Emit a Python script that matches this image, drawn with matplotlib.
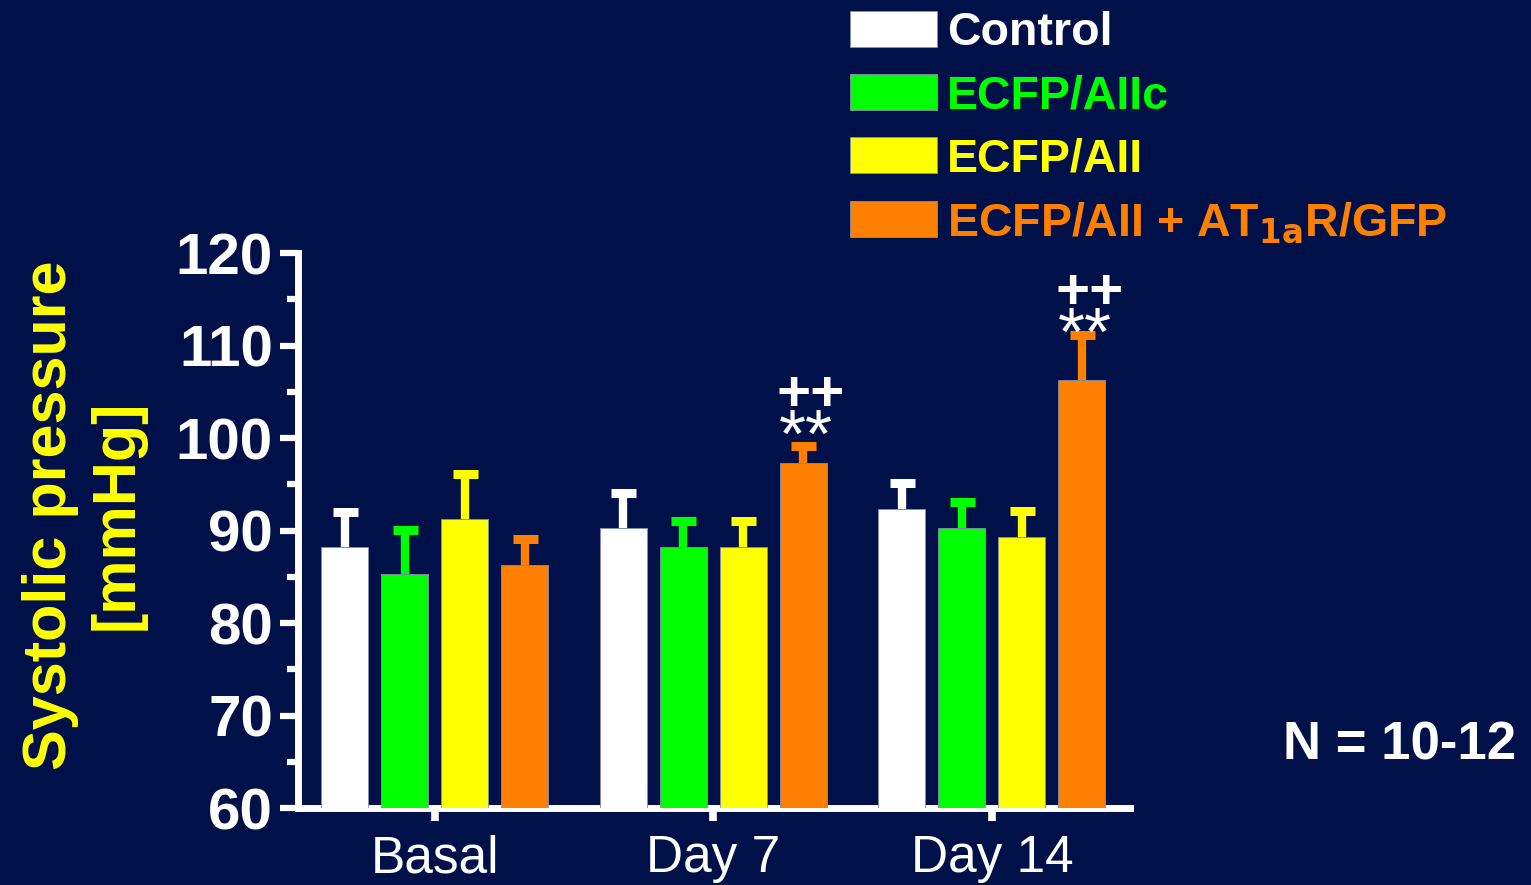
import matplotlib
matplotlib.use("Agg")
import matplotlib.pyplot as plt
from matplotlib.ticker import MultipleLocator
import numpy as np

# Data
groups = ["Basal", "Day 7", "Day 14"]
series_labels = ["Control", "ECFP/AIIc", "ECFP/AII", "ECFP/AII + AT$_{\\mathbf{1a}}$R/GFP"]
control = [88.2, 90.3, 92.3]
aiic = [85.3, 88.2, 90.3]
aii = [91.3, 88.2, 89.3]
aii_at1a = [86.3, 97.3, 106.3]
err_control = [3.8, 3.8, 2.8]
err_aiic = [4.8, 2.8, 2.8]
err_aii = [4.8, 2.8, 2.8]
err_aii_at1a = [2.8, 1.8, 4.8]
sig_groups = [1, 2]          # groups where the AT1aR bar is marked
sig_star = "**"
sig_plus = "++"

BG = "#00114A"
colors = ["#FFFFFF", "#00FF00", "#FFFF00", "#FF8000"]

plt.rcParams["font.family"] = ["Liberation Sans", "DejaVu Sans"]

fig = plt.figure(figsize=(15.31, 8.85), dpi=100, facecolor=BG)
ax = fig.add_axes([0.1946, 0.087, 0.5435, 0.627])
ax.set_facecolor(BG)

values = [control, aiic, aii, aii_at1a]
errors = [err_control, err_aiic, err_aii, err_aii_at1a]
x = np.arange(len(groups))
offset = 0.2154
width = 0.169

bars = []
for i, (vals, errs, c) in enumerate(zip(values, errors, colors)):
    pos = x + (i - 1.5) * offset
    b = ax.bar(pos, np.array(vals) - 60, width=width, bottom=60, color=c,
               edgecolor="#8890B0", linewidth=0.6, zorder=3)
    bars.append(b)
    eb = ax.errorbar(pos, vals, yerr=[np.zeros(len(vals)), errs], fmt="none",
                     ecolor=c, elinewidth=6, capsize=9, capthick=6.5, zorder=2)
    # only the upper whisker is shown
    eb[1][0].set_visible(False)

# significance marks above the AT1aR/GFP bars
star_off = [0.8, -0.2]
plus_off = [5.4, 4.5]
for k, g in enumerate(sig_groups):
    px = x[g] + 1.5 * offset
    top = aii_at1a[g] + err_aii_at1a[g]
    ax.text(px + 0.01, top + star_off[k], sig_star, color="white", fontsize=50,
            ha="center", va="center", zorder=4)
    ax.text(px + 0.027, top + plus_off[k], sig_plus, color="white", fontsize=42,
            fontweight="bold", ha="center", va="center", zorder=4)

ax.set_ylim(60, 120)
ax.set_xlim(-0.492, 2.496)
ax.yaxis.set_major_locator(MultipleLocator(10))
ax.yaxis.set_minor_locator(MultipleLocator(5))
ax.set_xticks(x)
ax.set_xticklabels(groups)

for s in ["top", "right"]:
    ax.spines[s].set_visible(False)
for s in ["left", "bottom"]:
    ax.spines[s].set_color("white")
    ax.spines[s].set_linewidth(5)
    ax.spines[s].set_capstyle("projecting")

ax.tick_params(axis="y", which="major", length=13, width=4.5, colors="white",
               labelsize=42, pad=5)
ax.tick_params(axis="y", which="minor", length=8, width=4.5, colors="white")
ax.tick_params(axis="x", which="major", length=9, width=5.5, colors="white",
               labelsize=37, pad=10)
for t in ax.get_yticklabels():
    t.set_fontweight("bold")

fig.text(0.055, 0.418, "Systolic pressure\n[mmHg]", rotation=90, color="#FFFF00",
         fontsize=44, fontweight="bold", ha="center", va="center",
         linespacing=1.22)

fig.text(0.914, 0.158, "N = 10-12", color="white", fontsize=38,
         fontweight="bold", ha="center", va="center")

leg = fig.legend([b[0] for b in bars], series_labels, loc="upper left",
                 bbox_to_anchor=(0.5552, 0.988), frameon=False,
                 prop={"size": 33.5, "weight": "bold"},
                 borderpad=0, borderaxespad=0,
                 handlelength=1.88, handleheight=0.82, handletextpad=0.21,
                 labelspacing=0.41, labelcolor=colors)

fig.savefig("out.png", dpi=100, facecolor=BG)
